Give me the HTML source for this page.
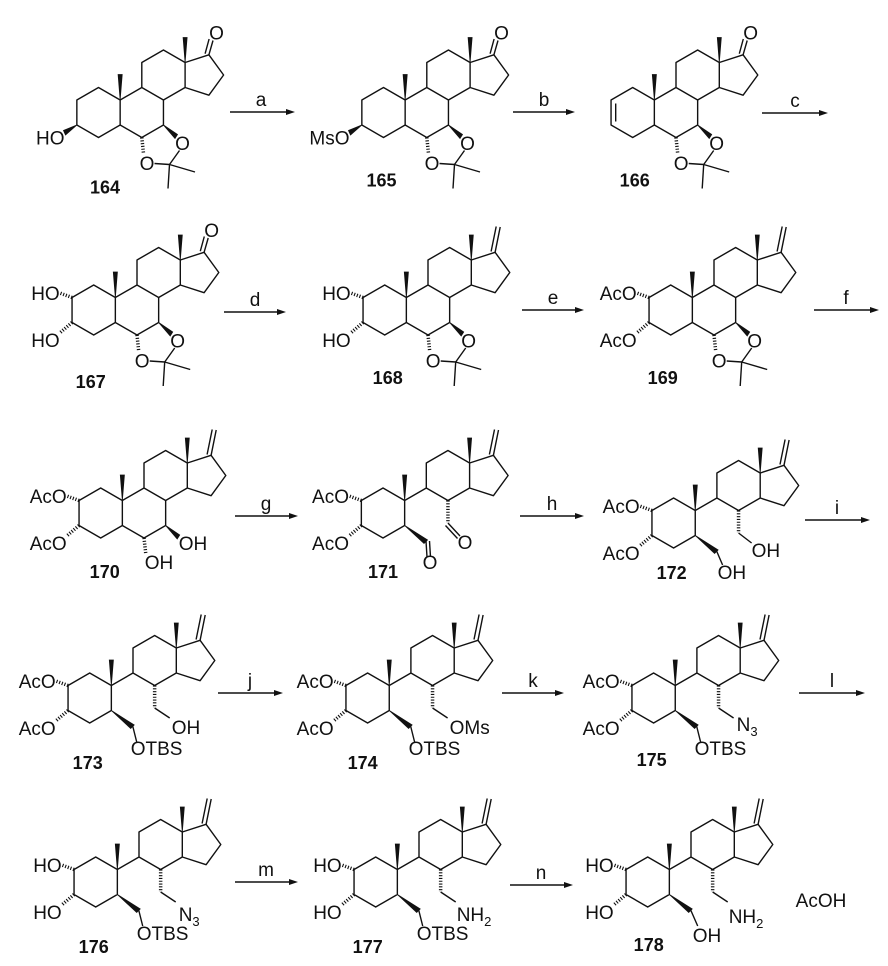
<!DOCTYPE html>
<html><head><meta charset="utf-8"><style>
html,body{margin:0;padding:0;background:#fff}
svg{display:block}
.b{fill:none;stroke:#111;stroke-width:1.4;stroke-linejoin:round}
.h{fill:none;stroke:#111;stroke-width:3.5;stroke-dasharray:1.1 1.7}
.w{fill:#111;stroke:#111;stroke-width:0.8}
text{font-family:"Liberation Sans",Arial,sans-serif;font-size:19px;fill:#111}
.n{font-weight:bold;font-size:18px;text-anchor:middle}
.m{text-anchor:middle}
.e{text-anchor:end}
</style></head><body>
<svg width="888" height="966" viewBox="0 0 888 966" xmlns="http://www.w3.org/2000/svg">
<defs>
<g id="core">
<path class="b" d="M21.65,-12.5 L0,-25 L-21.65,-12.5 L-21.65,12.5 L0,25 L21.65,12.5 Z M21.65,-12.5 L43.3,-25 M43.3,-25 L43.3,-50 L64.95,-62.5 L86.6,-50 L86.6,-25 L64.95,-12.5 Z M86.6,-50 L110.4,-57.7 L125.1,-37.5 L110.4,-17.3 L86.6,-25"/>
<polygon class="w" points="21.65,-12.5 19.6,-38 23.7,-38"/>
<polygon class="w" points="86.6,-50 84.6,-75 88.6,-75"/>
</g>
<path id="ringB" class="b" d="M64.95,-12.5 L64.95,12.5 L43.3,25 L21.65,12.5"/>
<path id="keto" class="b" d="M110.4,-57.7 L114.5,-72 M106.6,-58.8 L110.6,-73.5"/>
<path id="meth" class="b" d="M110.4,-57.7 L115.5,-83 M106.4,-58.5 L111.5,-83.5"/>
<g id="acet">
<polygon class="w" points="64.95,12.5 79,22 76.5,26"/>
<line class="h" x1="43.3" y1="25" x2="45" y2="41"/>
<path class="b" d="M81,38 L71,52 M56,51 L71,52 L96.5,59.5 M71,52 L69.5,76"/>
</g>
<g id="diolH">
<line class="h" x1="-21.65" y1="-12.5" x2="-34" y2="-17"/>
<line class="h" x1="-21.65" y1="12.5" x2="-34" y2="23"/>
</g>
<g id="seco">
<use href="#core"/>
<use href="#meth"/>
<line class="h" x1="64.95" y1="-12.5" x2="64.95" y2="10"/>
<polygon class="w" points="21.65,12.5 41,30.5 44.5,27"/>
</g>
</defs>

<!-- arrows -->
<g class="b">
<line x1="230" y1="112" x2="290" y2="112"/><line x1="513" y1="112" x2="570" y2="112"/><line x1="762" y1="113" x2="823" y2="113"/>
<line x1="224" y1="312" x2="281" y2="312"/><line x1="522" y1="310" x2="579" y2="310"/><line x1="814" y1="310" x2="874" y2="310"/>
<line x1="235" y1="516" x2="293" y2="516"/><line x1="520" y1="516" x2="579" y2="516"/><line x1="805" y1="520" x2="865" y2="520"/>
<line x1="218" y1="693" x2="278" y2="693"/><line x1="502" y1="693" x2="559" y2="693"/><line x1="799" y1="693" x2="860" y2="693"/>
<line x1="235" y1="882" x2="293" y2="882"/><line x1="510" y1="885" x2="568" y2="885"/>
</g>
<g fill="#111">
<polygon points="295,112 286,109 286,115"/><polygon points="575,112 566,109 566,115"/><polygon points="828,113 819,110 819,116"/>
<polygon points="286,312 277,309 277,315"/><polygon points="584,310 575,307 575,313"/><polygon points="879,310 870,307 870,313"/>
<polygon points="298,516 289,513 289,519"/><polygon points="584,516 575,513 575,519"/><polygon points="870,520 861,517 861,523"/>
<polygon points="283,693 274,690 274,696"/><polygon points="564,693 555,690 555,696"/><polygon points="865,693 856,690 856,696"/>
<polygon points="298,882 289,879 289,885"/><polygon points="573,885 564,882 564,888"/>
</g>
<g class="m">
<text x="261" y="106" class="m">a</text><text x="544" y="106" class="m">b</text><text x="795" y="107" class="m">c</text>
<text x="255" y="306" class="m">d</text><text x="553" y="304" class="m">e</text><text x="846" y="304" class="m">f</text>
<text x="266" y="510" class="m">g</text><text x="552" y="510" class="m">h</text><text x="837" y="514" class="m">i</text>
<text x="250" y="687" class="m">j</text><text x="533" y="687" class="m">k</text><text x="832" y="687" class="m">l</text>
<text x="266" y="876" class="m">m</text><text x="541" y="879" class="m">n</text>
</g>

<!-- 164 -->
<g transform="translate(98.5,112.5)">
<use href="#core"/><use href="#ringB"/><use href="#keto"/><use href="#acet"/>
<polygon class="w" points="-21.65,12.5 -35,18 -33,22.5"/>
<text x="-34" y="32" class="e">HO</text>
<text x="118" y="-73" class="m">O</text><text x="84" y="37.5" class="m">O</text><text x="48.5" y="57.5" class="m">O</text>
<text x="6.5" y="81" class="n">164</text>
</g>
<!-- 165 -->
<g transform="translate(383.5,112.5)">
<use href="#core"/><use href="#ringB"/><use href="#keto"/><use href="#acet"/>
<polygon class="w" points="-21.65,12.5 -35,18 -33,22.5"/>
<text x="-34" y="32" class="e">MsO</text>
<text x="118" y="-73" class="m">O</text><text x="84" y="37.5" class="m">O</text><text x="48.5" y="57.5" class="m">O</text>
<text x="-2" y="74" class="n">165</text>
</g>
<!-- 166 -->
<g transform="translate(632.7,112.5)">
<use href="#core"/><use href="#ringB"/><use href="#keto"/><use href="#acet"/>
<line class="b" x1="-17" y1="-9" x2="-17" y2="9"/>
<text x="118" y="-73" class="m">O</text><text x="84" y="37.5" class="m">O</text><text x="48.5" y="57.5" class="m">O</text>
<text x="2" y="74" class="n">166</text>
</g>

<!-- 167 -->
<g transform="translate(93.7,310)">
<use href="#core"/><use href="#ringB"/><use href="#keto"/><use href="#acet"/><use href="#diolH"/>
<text x="-34" y="-10" class="e">HO</text><text x="-34" y="37" class="e">HO</text>
<text x="118" y="-73" class="m">O</text><text x="84" y="37.5" class="m">O</text><text x="48.5" y="57.5" class="m">O</text>
<text x="-3" y="78" class="n">167</text>
</g>
<!-- 168 -->
<g transform="translate(384.7,310)">
<use href="#core"/><use href="#ringB"/><use href="#meth"/><use href="#acet"/><use href="#diolH"/>
<text x="-34" y="-10" class="e">HO</text><text x="-34" y="37" class="e">HO</text>
<text x="84" y="37.5" class="m">O</text><text x="48.5" y="57.5" class="m">O</text>
<text x="3" y="74" class="n">168</text>
</g>
<!-- 169 -->
<g transform="translate(670.7,310)">
<use href="#core"/><use href="#ringB"/><use href="#meth"/><use href="#acet"/><use href="#diolH"/>
<text x="-34" y="-10" class="e">AcO</text><text x="-34" y="37" class="e">AcO</text>
<text x="84" y="37.5" class="m">O</text><text x="48.5" y="57.5" class="m">O</text>
<text x="-8" y="74" class="n">169</text>
</g>

<!-- 170 -->
<g transform="translate(100.7,513)">
<use href="#core"/><use href="#ringB"/><use href="#meth"/><use href="#diolH"/>
<polygon class="w" points="64.95,12.5 79,22 76.5,26"/>
<line class="h" x1="43.3" y1="25" x2="45" y2="40"/>
<text x="-34" y="-10" class="e">AcO</text><text x="-34" y="37" class="e">AcO</text>
<text x="78" y="37" >OH</text><text x="44" y="56">OH</text>
<text x="4" y="65" class="n">170</text>
</g>
<!-- 171 -->
<g transform="translate(383,513)">
<use href="#seco"/><use href="#diolH"/>
<path class="b" d="M43,28 L44,44 M46.5,28 L47.5,44 M64.95,10 L77,23 M62.5,12.5 L74.5,25.5"/>
<text x="-34" y="-10" class="e">AcO</text><text x="-34" y="37" class="e">AcO</text>
<text x="82" y="36" class="m">O</text><text x="47" y="56" class="m">O</text>
<text x="0" y="65" class="n">171</text>
</g>
<!-- 172 -->
<g transform="translate(673.6,523)">
<use href="#seco"/><use href="#diolH"/>
<path class="b" d="M43,28 L49,42 M64.95,10 L78,20"/>
<text x="-34" y="-10" class="e">AcO</text><text x="-34" y="37" class="e">AcO</text>
<text x="78" y="34">OH</text><text x="44" y="56">OH</text>
<text x="-2" y="56" class="n">172</text>
</g>

<!-- 173 -->
<g transform="translate(89.7,698)">
<use href="#seco"/><use href="#diolH"/>
<path class="b" d="M43,28 L47,44 M64.95,10 L80,20"/>
<text x="-34" y="-10" class="e">AcO</text><text x="-34" y="37" class="e">AcO</text>
<text x="82" y="36">OH</text><text x="41" y="57">OTBS</text>
<text x="-2" y="71" class="n">173</text>
</g>
<!-- 174 -->
<g transform="translate(367.6,698)">
<use href="#seco"/><use href="#diolH"/>
<path class="b" d="M43,28 L47,44 M64.95,10 L80,20"/>
<text x="-34" y="-10" class="e">AcO</text><text x="-34" y="37" class="e">AcO</text>
<text x="82" y="36">OMs</text><text x="41" y="57">OTBS</text>
<text x="-5" y="71" class="n">174</text>
</g>
<!-- 175 -->
<g transform="translate(653.6,698)">
<use href="#seco"/><use href="#diolH"/>
<path class="b" d="M43,28 L47,44 M64.95,10 L80,20"/>
<text x="-34" y="-10" class="e">AcO</text><text x="-34" y="37" class="e">AcO</text>
<text x="83" y="33">N<tspan font-size="13" dy="5">3</tspan></text><text x="41" y="57">OTBS</text>
<text x="-2" y="68" class="n">175</text>
</g>

<!-- 176 -->
<g transform="translate(95.7,882)">
<use href="#seco"/><use href="#diolH"/>
<path class="b" d="M43,28 L47,44 M64.95,10 L80,20"/>
<text x="-34" y="-10" class="e">HO</text><text x="-34" y="37" class="e">HO</text>
<text x="83" y="39">N<tspan font-size="13" dy="5">3</tspan></text><text x="41" y="58">OTBS</text>
<text x="-2" y="71" class="n">176</text>
</g>
<!-- 177 -->
<g transform="translate(375.7,882)">
<use href="#seco"/><use href="#diolH"/>
<path class="b" d="M43,28 L47,44 M64.95,10 L80,20"/>
<text x="-34" y="-10" class="e">HO</text><text x="-34" y="37" class="e">HO</text>
<text x="81" y="39">NH<tspan font-size="13" dy="5">2</tspan></text><text x="41" y="58">OTBS</text>
<text x="-8" y="71" class="n">177</text>
</g>
<!-- 178 -->
<g transform="translate(647.7,882)">
<use href="#seco"/><use href="#diolH"/>
<path class="b" d="M43,28 L50,44 M64.95,10 L80,20"/>
<text x="-34" y="-10" class="e">HO</text><text x="-34" y="37" class="e">HO</text>
<text x="81" y="41">NH<tspan font-size="13" dy="5">2</tspan></text><text x="45" y="60">OH</text>
<text x="1" y="69" class="n">178</text>
</g>
<text x="821" y="907" class="m">AcOH</text>
</svg>
</body></html>
